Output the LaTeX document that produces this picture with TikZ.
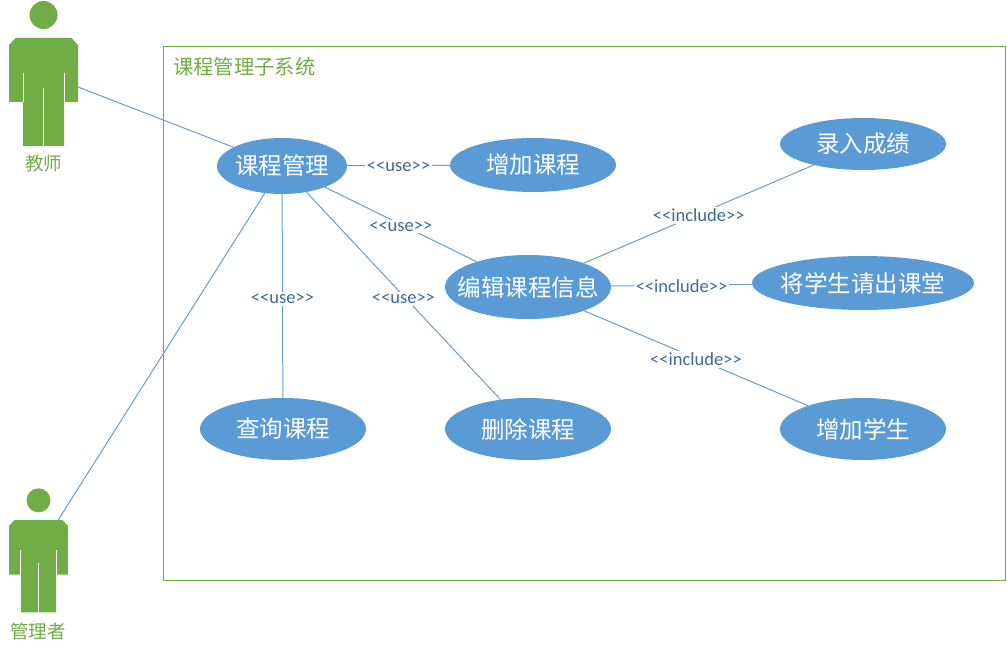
\documentclass[tikz,border=0pt]{standalone}
\usepackage{fontspec}
\setmainfont{Carlito}
\newfontfamily\cjk{Noto Sans CJK SC}
\usetikzlibrary{shapes.geometric}
\definecolor{actorgreen}{HTML}{70AD47}
\definecolor{caseblue}{HTML}{5B9BD5}
\definecolor{linkblue}{HTML}{6C9DC6}
\definecolor{labelblue}{HTML}{3F6A94}
\tikzset{
  usecase/.style={ellipse,fill=caseblue,text=white,inner xsep=-30pt,inner ysep=0pt,font=\cjk\fontsize{23.5}{23.5}\selectfont},
  link/.style={draw=linkblue,line width=1pt},
  linklabel/.style={fill=white,text=labelblue,inner sep=2pt,yshift=-1pt,font=\fontsize{18.5}{18.5}\selectfont},
  actorname/.style={text=actorgreen,font=\cjk\fontsize{18.5}{18.5}\selectfont},
  pics/actor/.style={code={
    \fill[actorgreen] (0,-23) circle (14);
    \fill[actorgreen] (-34.5,7) -- (-28,0) -- (28,0) -- (34.5,7) -- (34.5,64) -- (20.5,64) -- (20.5,108)
      -- (-20.5,108) -- (-20.5,64) -- (-34.5,64) -- cycle;
    \draw[white,line width=1pt] (-20.5,35) -- (-20.5,64);
    \draw[white,line width=1pt] (20.5,35) -- (20.5,64);
    \draw[white,line width=1pt] (0,50) -- (0,108);
    \coordinate (-hand) at (34.5,49);
    \coordinate (-neck) at (23,0);
  }}
}
\begin{document}
\begin{tikzpicture}[x=1pt,y=-1pt]
\useasboundingbox (0,0) rectangle (1007,650);
\draw[actorgreen,line width=1pt] (163.5,47) rectangle (1005,580);
\node[anchor=west,inner sep=0pt,text=actorgreen,font=\cjk\fontsize{20.3}{20.3}\selectfont] (title) at (173,67) {课程管理子系统};

\pic (teacher) at (43.5,38) {actor};
\pic[scale=0.855] (admin) at (38.5,520) {actor};
\node[actorname] (teachername) at (43.5,163) {教师};
\node[actorname] (adminname) at (38,631) {管理者};

\node[usecase,minimum width=130pt,minimum height=56pt] (manage) at (282,166) {课程管理};
\node[usecase,minimum width=166pt,minimum height=54pt] (addcourse) at (533,165) {增加课程};
\node[usecase,minimum width=166pt,minimum height=64pt] (edit) at (528,287) {编辑课程信息};
\node[usecase,minimum width=166pt,minimum height=62pt] (query) at (283,429) {查询课程};
\node[usecase,minimum width=166pt,minimum height=62pt] (delete) at (528,429) {删除课程};
\node[usecase,minimum width=166pt,minimum height=52pt] (grade) at (863,144) {录入成绩};
\node[usecase,minimum width=222pt,minimum height=54pt] (expel) at (863,283) {将学生请出课堂};
\node[usecase,minimum width=166pt,minimum height=62pt] (addstudent) at (863,429) {增加学生};

\draw[link] (teacher-hand) -- (manage);
\draw[link] (admin-neck) -- (manage);
\draw[link] (manage) -- node[linklabel] {<{}<use>{}>} (addcourse);
\draw[link] (manage) -- node[linklabel,yshift=-1pt] {<{}<use>{}>} (edit);
\draw[link] (manage) -- node[linklabel,yshift=-2pt] {<{}<use>{}>} (query);
\draw[link] (manage) -- node[linklabel,yshift=-2pt] {<{}<use>{}>} (delete);
\draw[link] (edit) -- node[linklabel] {<{}<include>{}>} (grade);
\draw[link] (edit) -- node[linklabel] {<{}<include>{}>} (expel);
\draw[link] (edit) -- node[linklabel] {<{}<include>{}>} (addstudent);
\end{tikzpicture}
\end{document}
